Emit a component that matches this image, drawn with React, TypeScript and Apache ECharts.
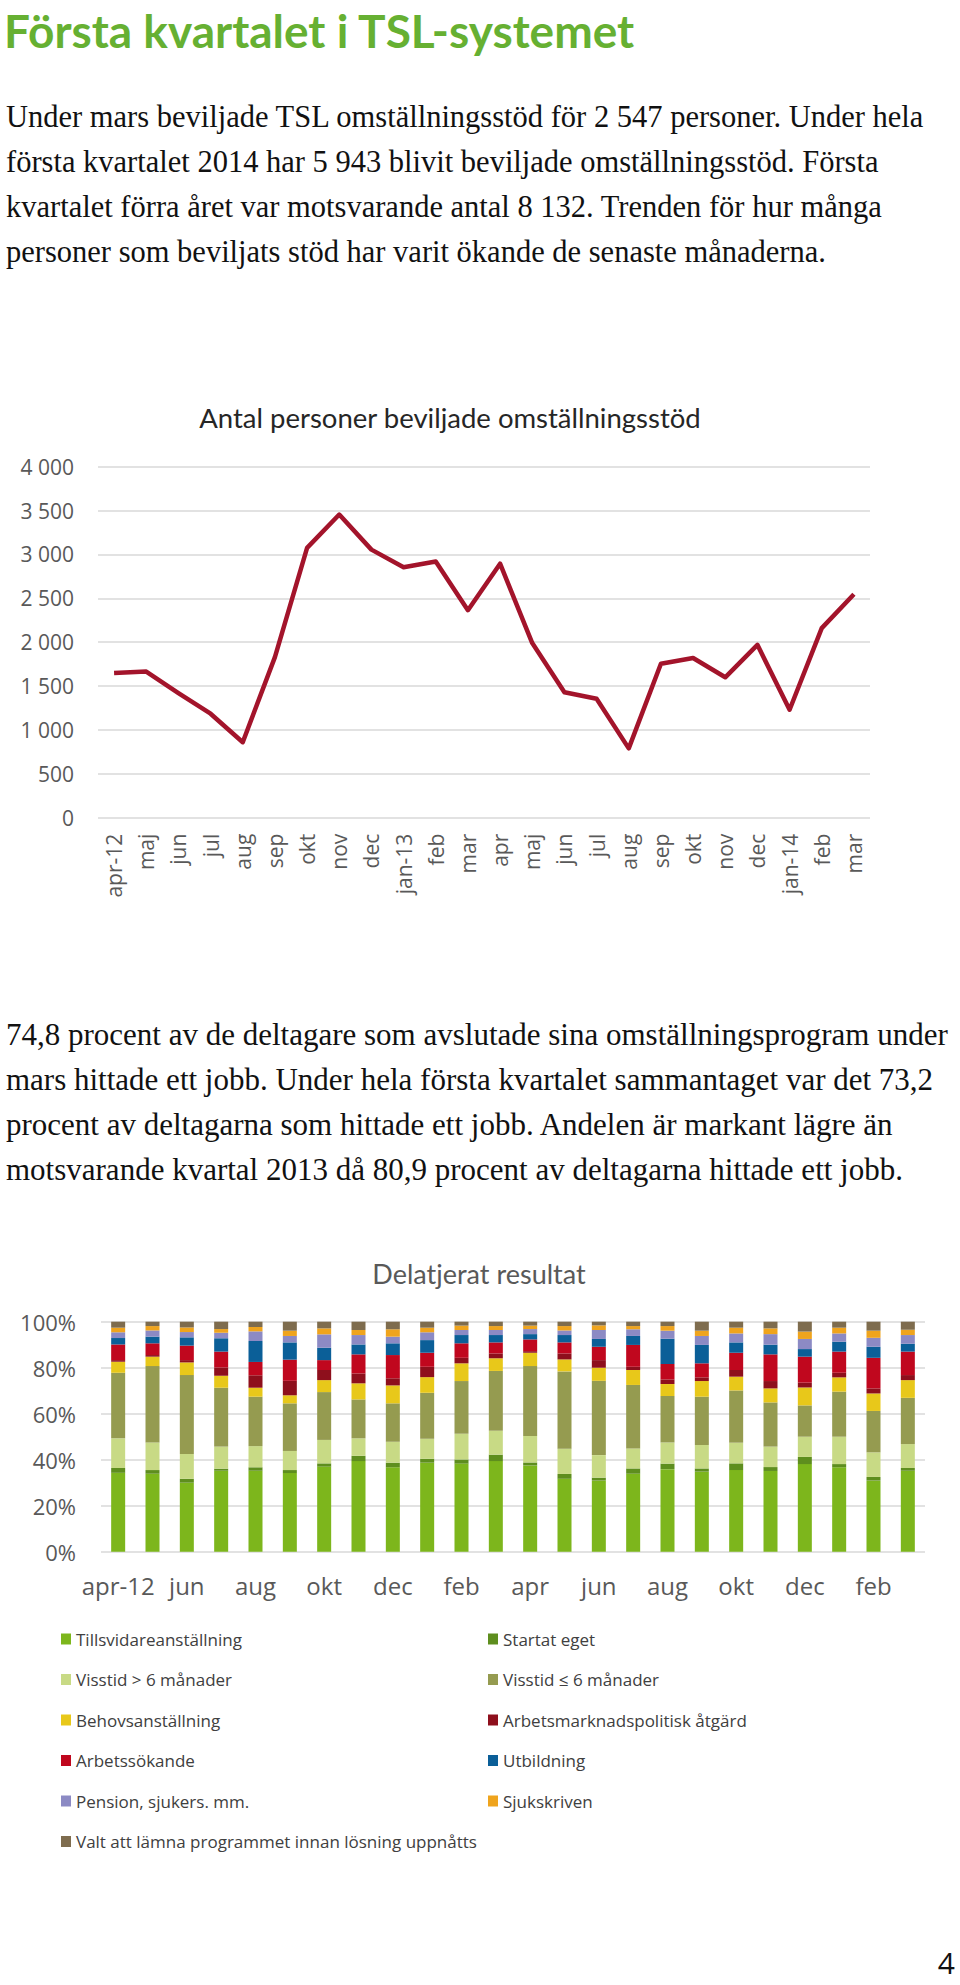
import React, { useEffect, useRef } from "react";
import * as echarts from "echarts";

const pageTitle = "Första kvartalet i TSL-systemet";
const para1 = [
  "Under mars beviljade TSL omställningsstöd för 2 547 personer. Under hela",
  "första kvartalet 2014 har 5 943 blivit beviljade omställningsstöd. Första",
  "kvartalet förra året var motsvarande antal 8 132. Trenden för hur många",
  "personer som beviljats stöd har varit ökande de senaste månaderna.",
];
const para2 = [
  "74,8 procent av de deltagare som avslutade sina omställningsprogram under",
  "mars hittade ett jobb. Under hela första kvartalet sammantaget var det 73,2",
  "procent av deltagarna som hittade ett jobb. Andelen är markant lägre än",
  "motsvarande kvartal 2013 då 80,9 procent av deltagarna hittade ett jobb.",
];
const lineTitle = "Antal personer beviljade omställningsstöd";
const barTitle = "Delatjerat resultat";
const pageNumber = "4";

const months = [
  "apr-12", "maj", "jun", "jul", "aug", "sep", "okt", "nov", "dec", "jan-13", "feb", "mar",
  "apr", "maj", "jun", "jul", "aug", "sep", "okt", "nov", "dec", "jan-14", "feb", "mar",
];
const beviljade = [
  1650, 1665, 1420, 1185, 860, 1830, 3075, 3455, 3055, 2855, 2920, 2365,
  2895, 1990, 1430, 1355, 790, 1755, 1820, 1600, 1970, 1230, 2160, 2547,
];

const seriesNames = [
  "Tillsvidareanställning",
  "Startat eget",
  "Visstid > 6 månader",
  "Visstid ≤ 6 månader",
  "Behovsanställning",
  "Arbetsmarknadspolitisk åtgärd",
  "Arbetssökande",
  "Utbildning",
  "Pension, sjukers. mm.",
  "Sjukskriven",
  "Valt att lämna programmet innan lösning uppnåtts",
];
const seriesColors = [
  "#7db61c", "#5e8e1e", "#c8da85", "#959b50", "#e8c81a", "#8e0f1c",
  "#c0071e", "#0b5f98", "#8c8ac4", "#efa41d", "#7e6c4e",
];

const tillsvidare = [34.3, 33.9, 30.0, 35.2, 35.2, 34.2, 37.0, 39.4, 36.7, 38.7, 38.3, 39.4, 37.5, 31.7, 30.9, 33.9, 35.9, 34.8, 35.5, 35.1, 38.1, 36.7, 30.9, 35.2];
const startatEget = [2.1, 1.6, 1.7, 0.9, 1.5, 1.3, 1.4, 2.3, 2.0, 1.7, 1.8, 2.8, 1.3, 2.1, 1.3, 2.3, 2.4, 1.4, 2.9, 1.7, 3.1, 1.4, 1.6, 1.2];
const visstidLang = [12.9, 12.0, 10.8, 9.6, 9.2, 8.3, 10.2, 7.6, 9.1, 8.7, 11.2, 10.4, 11.5, 11.0, 9.8, 8.7, 9.2, 10.2, 9.0, 8.9, 8.8, 11.9, 10.7, 10.4];
const visstidKort = [28.5, 33.2, 34.3, 25.6, 21.5, 20.7, 20.8, 16.9, 16.7, 20.0, 22.9, 26.0, 30.4, 33.6, 32.3, 27.6, 20.2, 21.0, 22.7, 19.2, 13.6, 19.6, 18.0, 20.1];
const behov = [4.8, 4.1, 5.5, 5.2, 3.9, 3.5, 5.2, 7.0, 7.8, 6.8, 7.7, 5.5, 5.8, 5.2, 5.7, 6.5, 5.2, 6.8, 6.0, 6.1, 7.8, 6.2, 7.6, 7.7];
const amAtgard = [0.7, 0.7, 1.0, 3.6, 5.4, 6.3, 4.4, 4.3, 3.1, 4.5, 2.4, 2.1, 0.7, 2.6, 3.3, 1.4, 2.0, 1.6, 2.9, 3.2, 2.1, 2.0, 2.2, 2.2];
const arbetssokande = [6.8, 5.1, 6.3, 6.9, 5.8, 9.2, 4.3, 8.3, 10.1, 6.1, 6.3, 4.8, 5.1, 4.8, 5.8, 9.5, 6.7, 6.1, 7.5, 11.6, 11.3, 9.2, 13.3, 10.2];
const utbildning = [2.8, 2.9, 3.6, 5.8, 9.1, 7.5, 5.4, 4.3, 5.1, 5.5, 3.6, 3.2, 2.3, 3.2, 3.4, 3.9, 11.0, 8.0, 4.5, 4.2, 3.3, 4.3, 4.8, 3.4];
const pension = [2.5, 2.7, 2.3, 2.4, 4.2, 2.8, 5.8, 4.1, 2.9, 3.4, 2.2, 2.2, 2.2, 2.0, 3.9, 2.9, 3.5, 3.9, 3.9, 4.6, 4.4, 3.6, 3.9, 3.8];
const sjukskriven = [2.0, 1.9, 2.0, 1.6, 1.9, 2.3, 2.6, 2.2, 3.2, 2.0, 1.9, 1.7, 1.5, 1.9, 2.0, 1.4, 2.0, 2.3, 2.5, 2.5, 3.2, 2.5, 3.1, 2.3];
const valtAttLamna = [2.6, 1.9, 2.5, 3.2, 2.3, 3.9, 2.9, 3.6, 3.3, 2.6, 1.7, 1.9, 1.7, 1.9, 1.6, 1.9, 1.9, 3.9, 2.6, 2.9, 4.3, 2.6, 3.9, 3.5];

const barData = [
  tillsvidare, startatEget, visstidLang, visstidKort, behov, amAtgard,
  arbetssokande, utbildning, pension, sjukskriven, valtAttLamna,
];

const lineYTicks = { min: 0, max: 4000, interval: 500 };
const barYTicks = { min: 0, max: 100, interval: 20 };

const GRAY = "#595959";
const GRID = "#d9d9d9";

function textEl(text: string, x: number, y: number, font: string, fill: string, align = "left") {
  return {
    type: "text",
    x,
    y,
    silent: true,
    style: {
      text,
      font,
      fill,
      textAlign: align,
      textVerticalAlign: "middle",
      align,
      verticalAlign: "middle",
    },
  };
}

export default function App() {
  const ref = useRef<HTMLDivElement>(null);

  useEffect(() => {
    document.body.style.margin = "0";
    if (!ref.current) return;
    const chart = echarts.init(ref.current, null, { renderer: "svg" });

    const graphics: any[] = [];
    graphics.push(textEl(pageTitle, 4, 30, "bold 46px Lato, sans-serif", "#66b032"));
    para1.forEach((t, i) =>
      graphics.push(textEl(t, 6, 117 + i * 44.9, "30.5px 'Liberation Serif', serif", "#111111"))
    );
    para2.forEach((t, i) =>
      graphics.push(textEl(t, 6, 1034 + i * 45, "31px 'Liberation Serif', serif", "#111111"))
    );
    graphics.push(textEl(lineTitle, 450, 417, "27.5px Lato, sans-serif", "#262626", "center"));
    graphics.push(textEl(barTitle, 479, 1273, "27px Lato, sans-serif", GRAY, "center"));
    graphics.push(textEl(pageNumber, 955, 1962, "30px 'Open Sans', sans-serif", "#111111", "right"));

    const option: any = {
      animation: false,
      backgroundColor: "#ffffff",
      textStyle: { fontFamily: "'Open Sans', sans-serif" },
      grid: [
        { left: 98, top: 466.7, width: 772, height: 351, containLabel: false },
        { left: 101, top: 1321.7, width: 824, height: 230, containLabel: false },
      ],
      xAxis: [
        {
          type: "category",
          gridIndex: 0,
          data: months,
          boundaryGap: true,
          axisLine: { show: false },
          axisTick: { show: false },
          axisLabel: {
            interval: 0,
            rotate: 90,
            margin: 16,
            color: GRAY,
            fontSize: 21,
            fontFamily: "'Open Sans', sans-serif",
          },
        },
        {
          type: "category",
          gridIndex: 1,
          data: months,
          boundaryGap: true,
          axisLine: { show: false },
          axisTick: { show: false },
          axisLabel: {
            interval: 1,
            margin: 22,
            color: GRAY,
            fontSize: 24,
            fontFamily: "'Open Sans', sans-serif",
          },
        },
      ],
      yAxis: [
        {
          type: "value",
          gridIndex: 0,
          ...lineYTicks,
          axisLine: { show: false },
          axisTick: { show: false },
          splitLine: { lineStyle: { color: GRID, width: 1.5 } },
          axisLabel: {
            margin: 24,
            color: GRAY,
            fontSize: 21,
            fontFamily: "'Open Sans', sans-serif",
            formatter: (v: number) => String(v).replace(/\B(?=(\d{3})+(?!\d))/g, " "),
          },
        },
        {
          type: "value",
          gridIndex: 1,
          ...barYTicks,
          axisLine: { show: false },
          axisTick: { show: false },
          splitLine: { lineStyle: { color: GRID, width: 1.5 } },
          axisLabel: {
            margin: 25,
            color: GRAY,
            fontSize: 22,
            fontFamily: "'Open Sans', sans-serif",
            formatter: "{value}%",
          },
        },
      ],
      legend: {
        data: seriesNames,
        left: 61,
        top: 1624,
        width: 880,
        orient: "horizontal",
        itemGap: 10.5,
        itemWidth: 10,
        itemHeight: 11,
        icon: "rect",
        padding: 0,
        selectedMode: false,
        textStyle: {
          color: "#404040",
          fontSize: 17,
          fontFamily: "'Open Sans', sans-serif",
          width: 401.5,
          lineHeight: 30,
          padding: [0, 0, 0, 0],
        },
      },
      series: [
        {
          type: "line",
          name: "Beviljade",
          xAxisIndex: 0,
          yAxisIndex: 0,
          data: beviljade,
          symbol: "none",
          lineStyle: { color: "#a3142b", width: 4.5, join: "round" },
          itemStyle: { color: "#a3142b" },
        },
        ...seriesNames.map((name, i) => ({
          type: "bar",
          name,
          xAxisIndex: 1,
          yAxisIndex: 1,
          stack: "total",
          barWidth: 14,
          data: barData[i],
          itemStyle: { color: seriesColors[i] },
        })),
      ],
      graphic: graphics,
    };

    chart.setOption(option);
    return () => chart.dispose();
  }, []);

  return <div ref={ref} style={{ width: 960, height: 1985 }} />;
}
